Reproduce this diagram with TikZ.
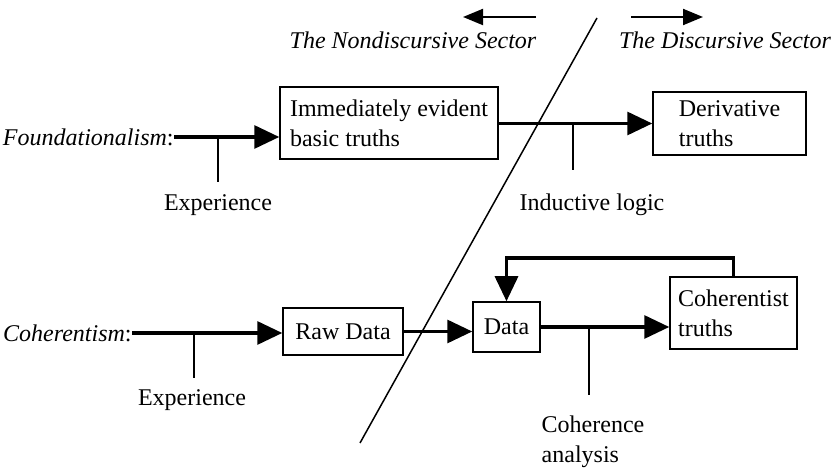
\documentclass[tikz,border=0pt]{standalone}
\usepackage{fontspec}
\setmainfont{Liberation Serif}
\usetikzlibrary{arrows.meta}

\begin{document}
\begin{tikzpicture}[x=0.5pt, y=-0.5pt,
    font=\fontsize{12}{15}\selectfont,
    box/.style={draw, line width=0.75pt, align=left, inner sep=0pt},
    flow/.style={line width=1.6pt, -{Triangle[length=12.5pt, width=11.5pt]}},
    sector/.style={line width=1pt, -{Triangle[length=10pt, width=8pt]}},
    tick/.style={line width=0.8pt}]

    \useasboundingbox (0,0) rectangle (837,475);

    % the two sectors
    \node[font=\fontsize{12}{15}\selectfont\itshape] (nondisc) at (413,40) {The Nondiscursive Sector};
    \node[font=\fontsize{12}{15}\selectfont\itshape] (disc) at (725,40) {The Discursive Sector};
    \coordinate (lt) at (536,17);
    \coordinate (lh) at (463,17);
    \coordinate (rt) at (631,17);
    \coordinate (rh) at (703,17);
    \draw [sector] (lt) -- (lh);
    \draw [sector] (rt) -- (rh);

    \coordinate (divtop) at (597,18);
    \coordinate (divbot) at (360,443);
    \draw [line width=0.75pt] (divtop) -- (divbot);

    % foundationalism
    \node[anchor=east, inner sep=0pt] (found) at (174,137) {\textit{Foundationalism}:};
    \node[box, minimum width=109pt, minimum height=36pt] (imm) at (389,123) {Immediately evident\\basic truths};
    \node[box, minimum width=76.5pt, minimum height=31.5pt] (deriv) at (729.5,123.5) {Derivative\\truths};
    \draw [flow] (found.east) -- (found.east -| imm.west);
    \draw [flow] (imm.east |- deriv.west) -- (deriv.west);

    \node (exp1) at (218,205) {Experience};
    \node (induct) at (592,205) {Inductive logic};
    \coordinate (t1) at (218,137);
    \coordinate (t1e) at (218,182);
    \coordinate (t2) at (573,123.5);
    \coordinate (t2e) at (573,170);
    \draw [tick] (t1) -- (t1e);
    \draw [tick] (t2) -- (t2e);

    % coherentism
    \node[anchor=east, inner sep=0pt] (coh) at (132,333) {\textit{Coherentism}:};
    \node[box, minimum width=60pt, minimum height=23.5pt] (raw) at (343,331.5) {Raw Data};
    \node[box, minimum width=33.5pt, minimum height=25pt] (data) at (506.5,327) {Data};
    \node[box, minimum width=63.5pt, minimum height=36pt] (cohtr) at (733.5,313) {Coherentist\\truths};
    \draw [flow] (coh.east) -- (coh.east -| raw.west);
    \draw [flow] (raw.east) -- (raw.east -| data.west);
    \draw [flow] (data.east) -- (data.east -| cohtr.west);
    \coordinate (loop) at (506.5,258);
    \draw [flow] (cohtr.north) |- (loop) -- (data.north);

    \node (exp2) at (192,400) {Experience};
    \node[align=left] (cohan) at (593,442) {Coherence\\analysis};
    \coordinate (t3) at (194,333);
    \coordinate (t3e) at (194,378);
    \coordinate (t4) at (589,327);
    \coordinate (t4e) at (589,395);
    \draw [tick] (t3) -- (t3e);
    \draw [tick] (t4) -- (t4e);
\end{tikzpicture}
\end{document}
